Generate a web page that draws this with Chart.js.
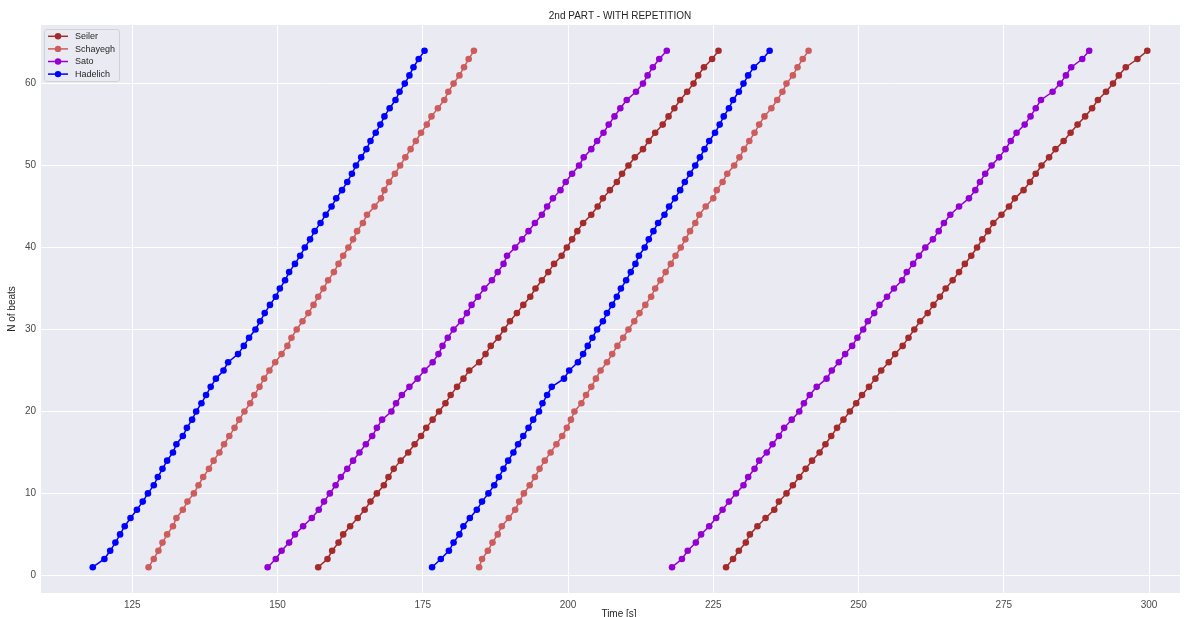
<!DOCTYPE html>
<html>
<head>
<meta charset="utf-8">
<script src="https://cdn.jsdelivr.net/npm/chart.js@4/dist/chart.umd.min.js"></script>
<style>
  html, body { margin: 0; padding: 0; background: #ffffff; }
  #wrap { width: 1187px; height: 617px; position: relative; }
</style>
</head>
<body>
<div id="wrap"><canvas id="c" width="1187" height="617"></canvas></div>
<script>
// Beat counter (y values)
const beats = [1,2,3,4,5,6,7,8,9,10,11,12,13,14,15,16,17,18,19,20,21,22,23,24,25,26,27,28,29,30,31,32,
               33,34,35,36,37,38,39,40,41,42,43,44,45,46,47,48,49,50,51,52,53,54,55,56,57,58,59,60,61,62,63,64];

// Time of each beat [s], one array per performer and run
const seilerRun1 = [157.0,158.6,159.4,160.5,161.3,162.5,163.8,165.0,166.0,167.1,168.3,169.1,170.0,171.2,172.5,173.6,
  174.7,175.6,176.7,177.8,178.9,179.8,180.9,182.0,183.0,184.7,185.8,186.7,188.0,189.0,190.0,191.2,
  192.3,193.5,194.4,195.5,196.6,197.6,198.9,199.8,200.7,201.6,202.6,204.0,205.1,206.0,207.2,208.4,
  209.3,210.4,211.5,212.9,213.9,215.0,216.3,217.3,218.3,219.3,220.5,221.6,222.4,223.4,224.8,225.9];
const seilerRun2 = [227.2,228.4,229.4,230.6,231.3,232.6,234.0,235.5,236.3,237.6,238.7,239.8,240.9,242.0,243.3,244.3,
  245.3,246.3,247.4,248.5,249.6,250.6,251.8,252.9,253.9,255.2,256.3,257.6,258.6,259.6,260.6,261.9,
  262.9,264.0,265.0,266.2,267.3,268.3,269.4,270.4,271.3,272.3,273.2,274.6,275.9,276.9,278.4,279.5,
  280.5,281.5,282.8,283.9,285.3,286.5,287.7,289.0,290.2,291.2,292.6,293.8,294.8,296.0,298.0,299.7];
const schayeghRun1 = [127.8,128.7,129.5,130.2,131.0,132.0,132.6,133.7,134.5,135.6,136.4,137.2,138.2,139.0,140.0,140.8,
  141.7,142.6,143.4,144.3,145.3,146.0,146.9,147.7,148.6,149.6,150.7,151.7,152.4,153.3,154.3,155.3,
  156.2,157.0,157.9,158.7,159.7,160.5,161.3,162.2,163.0,163.7,164.7,165.4,166.7,167.8,168.4,169.2,
  170.2,171.1,172.0,172.9,173.8,174.7,175.7,176.5,177.6,178.7,179.4,180.3,181.3,182.1,182.9,183.8];
const schayeghRun2 = [184.7,185.2,186.2,187.0,187.9,188.6,189.8,190.9,191.6,192.4,193.4,194.3,195.1,196.0,197.0,198.0,
  199.0,199.8,200.5,201.1,202.3,203.1,204.0,204.8,205.6,206.7,207.6,208.5,209.5,210.4,211.4,212.3,
  213.3,214.3,215.0,215.9,216.8,217.7,218.5,219.4,220.2,221.0,221.9,222.6,223.7,225.0,225.6,226.6,
  227.4,228.6,229.5,230.3,231.2,232.1,232.9,233.8,235.0,236.0,236.9,237.6,238.7,239.5,240.4,241.4];
const satoRun1 = [148.3,149.7,150.7,152.0,153.0,154.4,155.9,157.1,158.0,159.0,160.0,160.9,162.0,163.0,164.1,165.2,
  166.3,167.1,168.0,169.6,170.4,171.4,172.7,174.1,175.3,176.7,177.7,178.4,179.3,180.3,181.6,182.6,
  183.4,184.5,185.6,186.9,187.9,188.9,189.5,190.9,192.1,193.2,194.3,195.5,196.4,197.4,198.7,199.6,
  200.7,201.9,202.7,204.0,205.0,206.1,207.0,208.0,209.0,210.1,211.7,212.9,213.7,214.6,215.7,217.0];
const satoRun2 = [217.9,219.6,220.6,222.0,222.9,224.3,225.5,226.6,227.7,228.9,230.2,231.0,232.1,232.9,234.2,235.2,
  236.3,237.2,238.5,239.8,240.6,241.6,242.8,244.5,245.4,246.6,247.7,248.9,249.8,250.8,251.6,252.7,
  253.6,254.9,256.1,257.5,258.3,259.4,260.4,261.5,262.8,263.8,264.7,265.8,267.3,269.0,270.1,270.9,
  271.8,272.9,274.2,275.3,276.2,277.2,278.6,279.6,280.5,281.4,283.4,284.7,285.7,286.6,288.5,289.7];
const hadelichRun1 = [118.2,120.2,121.2,122.1,122.9,123.7,124.7,125.8,126.8,127.7,128.7,129.4,130.2,131.0,132.0,132.6,
  133.7,134.4,135.3,136.0,136.9,137.7,138.5,139.4,140.7,141.5,143.2,144.2,145.1,146.2,147.0,147.8,
  148.7,149.7,150.4,151.3,152.0,153.0,153.9,154.7,155.6,156.4,157.4,158.3,159.3,160.1,161.1,162.0,
  162.8,163.5,164.4,165.3,166.0,166.9,167.7,168.4,169.3,170.3,171.0,171.9,172.7,173.4,174.3,175.3];
const hadelichRun2 = [176.6,178.1,179.5,180.3,181.3,182.0,183.1,184.3,185.2,186.3,187.3,188.1,188.9,189.7,190.6,191.4,
  192.3,193.2,194.0,195.0,195.6,196.4,197.2,199.3,200.2,201.7,202.6,203.4,204.2,205.0,206.0,206.7,
  207.6,208.4,209.1,210.0,210.8,211.6,212.2,213.2,213.9,214.7,215.5,216.6,217.4,218.4,219.3,220.1,
  221.0,221.9,222.7,223.5,224.3,225.3,226.1,226.8,227.7,228.4,229.4,230.2,231.0,232.0,233.5,234.7];

// Legend names, titles and tick labels
const performers = ['Seiler', 'Schayegh', 'Sato', 'Hadelich'];
const chartTitle = '2nd PART - WITH REPETITION';
const xAxisTitle = 'Time [s]';
const yAxisTitle = 'N of beats';
const xTickValues = [125, 150, 175, 200, 225, 250, 275, 300];
const yTickValues = [0, 10, 20, 30, 40, 50, 60];

const performerColors = {
  Seiler: '#a52a2a',
  Schayegh: '#cd5c5c',
  Sato: '#9400d3',
  Hadelich: '#0000ff'
};

const runs = [
  { name: 'Seiler', times: seilerRun1 },
  { name: 'Schayegh', times: schayeghRun1 },
  { name: 'Sato', times: satoRun1 },
  { name: 'Hadelich', times: hadelichRun1 },
  { name: 'Seiler', times: seilerRun2 },
  { name: 'Schayegh', times: schayeghRun2 },
  { name: 'Sato', times: satoRun2 },
  { name: 'Hadelich', times: hadelichRun2 }
];

const FONT = '"Liberation Sans", Arial, Helvetica, sans-serif';
const TEXT = '#262626';

const datasets = runs.map(r => ({
  label: r.name,
  data: r.times.map((t, i) => ({ x: t, y: beats[i] })),
  showLine: true,
  borderColor: performerColors[r.name],
  backgroundColor: performerColors[r.name],
  borderWidth: 1.5,
  pointRadius: 3.3,
  pointBorderWidth: 0,
  pointHoverRadius: 3.3,
  tension: 0
}));

// Grey plotting surface behind the grid
const panelBackground = {
  id: 'panelBackground',
  beforeDraw(chart) {
    const { ctx, chartArea: a } = chart;
    ctx.save();
    ctx.fillStyle = '#ffffff';
    ctx.fillRect(0, 0, chart.width, chart.height);
    ctx.fillStyle = '#eaeaf2';
    ctx.fillRect(a.left, a.top, a.right - a.left, a.bottom - a.top);
    ctx.restore();
  }
};

// Title and x-axis label, centred over the full axes width
const axesTexts = {
  id: 'axesTexts',
  afterDraw(chart) {
    const { ctx } = chart;
    ctx.save();
    ctx.font = '10px ' + FONT;
    ctx.fillStyle = TEXT;
    ctx.textAlign = 'center';
    ctx.textBaseline = 'middle';
    ctx.fillText(chartTitle, 620, 16.5);
    ctx.fillText(xAxisTitle, 619, 614);
    ctx.restore();
  }
};

// Framed legend in the upper-left corner of the plot
const boxLegend = {
  id: 'boxLegend',
  afterDraw(chart) {
    const { ctx, chartArea: a } = chart;
    const x0 = a.left + 3.5, y0 = a.top + 4.5, w = 75, h = 52;
    ctx.save();
    ctx.beginPath();
    ctx.roundRect(x0, y0, w, h, 2.5);
    ctx.fillStyle = 'rgba(234,234,242,0.85)';
    ctx.fill();
    ctx.strokeStyle = '#d2d2d6';
    ctx.lineWidth = 1;
    ctx.stroke();
    ctx.font = '9px ' + FONT;
    ctx.textBaseline = 'middle';
    ctx.textAlign = 'left';
    performers.forEach((name, i) => {
      const cy = y0 + 6.8 + i * 12.6;
      const col = performerColors[name];
      ctx.strokeStyle = col;
      ctx.lineWidth = 1.5;
      ctx.beginPath();
      ctx.moveTo(x0 + 3.5, cy);
      ctx.lineTo(x0 + 23.5, cy);
      ctx.stroke();
      ctx.fillStyle = col;
      ctx.beginPath();
      ctx.arc(x0 + 13.5, cy, 3.2, 0, Math.PI * 2);
      ctx.fill();
      ctx.fillStyle = TEXT;
      ctx.fillText(name, x0 + 30.5, cy + 0.5);
    });
    ctx.restore();
  }
};

new Chart(document.getElementById('c'), {
  type: 'scatter',
  data: { datasets },
  plugins: [panelBackground, axesTexts, boxLegend],
  options: {
    responsive: false,
    devicePixelRatio: 1,
    animation: false,
    events: [],
    layout: { padding: { left: 0, right: 7, top: 25, bottom: 0 } },
    plugins: {
      legend: { display: false },
      tooltip: { enabled: false },
      title: { display: false }
    },
    scales: {
      x: {
        type: 'linear',
        min: 109.29,
        max: 305.33,
        afterBuildTicks(scale) { scale.ticks = xTickValues.map(v => ({ value: v })); },
        afterFit(scale) { scale.height = 24; },
        border: { display: false },
        grid: { color: '#ffffff', lineWidth: 1, drawTicks: false },
        ticks: {
          color: '#4a4a4a',
          font: { family: FONT, size: 10 },
          padding: 6,
          maxRotation: 0
        },
        title: { display: false }
      },
      y: {
        type: 'linear',
        min: -2.15,
        max: 67.15,
        afterBuildTicks(scale) { scale.ticks = yTickValues.map(v => ({ value: v })); },
        afterFit(scale) { scale.width = 41; },
        border: { display: false },
        grid: { color: '#ffffff', lineWidth: 1, drawTicks: false },
        ticks: {
          color: '#4a4a4a',
          font: { family: FONT, size: 10 },
          padding: 5
        },
        title: {
          display: true,
          text: yAxisTitle,
          color: TEXT,
          font: { family: FONT, size: 10 },
          padding: { top: 6, bottom: 0 }
        }
      }
    }
  }
});
</script>
</body>
</html>
